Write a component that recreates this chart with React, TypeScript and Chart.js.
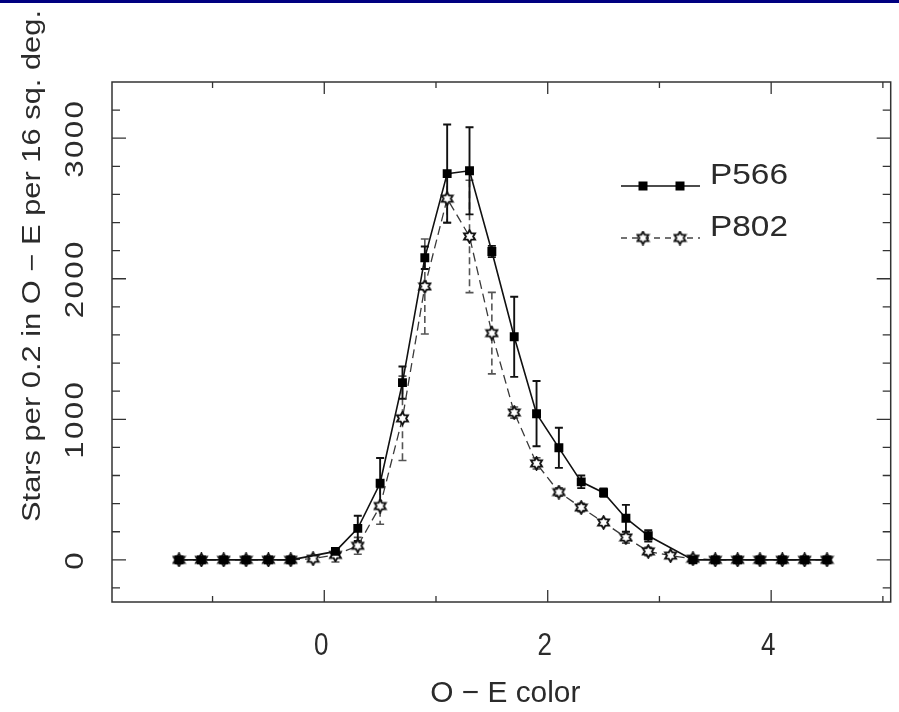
import React, { useEffect, useRef } from 'react';
import { Chart, registerables } from 'chart.js';

Chart.register(...registerables);

// ---------- data ----------
const X_VALUES = [-1.3, -1.1, -0.9, -0.7, -0.5, -0.3, -0.1, 0.1, 0.3, 0.5, 0.7, 0.9, 1.1, 1.3, 1.5, 1.7, 1.9, 2.1, 2.3, 2.5, 2.7, 2.9, 3.1, 3.3, 3.5, 3.7, 3.9, 4.1, 4.3, 4.5];
const P566_VALUES = [0, 0, 0, 0, 0, 0, null, 60, 224, 545, 1261, 2149, 2748, 2768, 2194, 1587, 1040, 797, 555, 478, 296, 171, null, 0, 0, 0, 0, 0, 0, 0];
const P566_ERRORS = [0, 0, 0, 0, 0, 0, 0, 0, 90, 180, 115, 80, 350, 310, 40, 285, 232, 143, 45, 30, 95, 40, 0, 0, 0, 0, 0, 0, 0, 0];
const P802_VALUES = [0, 0, 0, 0, 0, 0, 8, 35, 100, 383, 1007, 1945, 2570, 2301, 1613, 1048, 686, 482, 372, 266, 159, 60, 30, 8, 0, 0, 0, 0, 0, 0];
const P802_ERRORS = [0, 0, 0, 0, 0, 0, 0, 50, 60, 130, 300, 338, 170, 400, 290, 40, 40, 30, 30, 20, 40, 30, 0, 0, 0, 0, 0, 0, 0, 0];
const SERIES_NAMES = ['P566', 'P802'];

const X_TICK_LABELS = ['0', '2', '4'];
const X_TICK_LABEL_VALUES = [0, 2, 4];
const X_MAJOR_TICKS = [0, 2, 4];
const X_MINOR_TICKS = [-1, 1, 3, 5];
const Y_TICK_LABELS = ['0', '1000', '2000', '3000'];
const Y_TICK_LABEL_VALUES = [0, 1000, 2000, 3000];
const Y_MAJOR_TICKS = [0, 1000, 2000, 3000];
const Y_MINOR_TICKS = [-200, 200, 400, 600, 800, 1200, 1400, 1600, 1800, 2200, 2400, 2600, 2800, 3200];
const X_TITLE = 'O \u2212 E color';
const Y_TITLE = 'Stars per 0.2 in O \u2212 E per 16 sq. deg.';

const X_MIN = -1.9;
const X_MAX = 5.07;
const Y_MIN = -300;
const Y_MAX = 3400;

// ---------- styles ----------
const FONT_FAMILY = '"Liberation Sans", Arial, sans-serif';
const TEXT_COLOR = '#2b2b2b';
const STRETCH = 1.2;

function makeHexagram(size: number) {
  const c = document.createElement('canvas');
  c.width = size;
  c.height = size;
  const g = c.getContext('2d')!;
  const cx = size / 2;
  const cy = size / 2;
  const R = size / 2 - 1.2;
  const r = R / Math.sqrt(3);
  g.beginPath();
  for (let k = 0; k < 12; k++) {
    const ang = -Math.PI / 2 + (k * Math.PI) / 6;
    const rr = k % 2 === 0 ? R : r;
    const px = cx + rr * Math.cos(ang);
    const py = cy + rr * Math.sin(ang);
    if (k === 0) g.moveTo(px, py);
    else g.lineTo(px, py);
  }
  g.closePath();
  g.fillStyle = '#ffffff';
  g.fill();
  g.lineWidth = 1.9;
  g.strokeStyle = '#111111';
  g.stroke();
  return c;
}

function drawStretchedText(
  ctx: CanvasRenderingContext2D,
  text: string,
  x: number,
  y: number,
  opts: { size: number; rotate?: boolean; width?: number; spacing?: number; align?: CanvasTextAlign }
) {
  ctx.save();
  ctx.font = `${opts.size}px ${FONT_FAMILY}`;
  (ctx as any).letterSpacing = `${opts.spacing ?? 0}px`;
  ctx.fillStyle = TEXT_COLOR;
  ctx.textBaseline = 'middle';
  ctx.textAlign = opts.align ?? 'center';
  const natural = ctx.measureText(text).width;
  const along = opts.width ? opts.width / natural : STRETCH;
  ctx.translate(x, y);
  if (opts.rotate) {
    ctx.rotate(-Math.PI / 2);
    ctx.scale(along, 1);
  } else {
    ctx.scale(opts.width ? along : 1, STRETCH);
  }
  ctx.fillText(text, 0, 0);
  ctx.restore();
}

export default function App() {
  const canvasRef = useRef<HTMLCanvasElement | null>(null);

  useEffect(() => {
    document.body.style.margin = '0';
    const canvas = canvasRef.current!;
    const hex = makeHexagram(15);

    const decorations = {
      id: 'decorations',
      beforeDraw(chart: any) {
        const ctx = chart.ctx as CanvasRenderingContext2D;
        ctx.save();
        ctx.fillStyle = '#ffffff';
        ctx.fillRect(0, 0, chart.width, chart.height);
        ctx.fillStyle = '#000080';
        ctx.fillRect(0, 0, chart.width, 3);
        ctx.restore();
      },
      beforeDatasetsDraw(chart: any) {
        const ctx = chart.ctx as CanvasRenderingContext2D;
        const xs = chart.scales.x;
        const ys = chart.scales.y;
        const { left, right, top, bottom } = chart.chartArea;

        // frame
        ctx.save();
        ctx.strokeStyle = '#333333';
        ctx.lineWidth = 1.5;
        ctx.strokeRect(left, top, right - left, bottom - top);
        ctx.lineWidth = 1.3;
        ctx.beginPath();
        const xt = (v: number, len: number) => {
          const px = xs.getPixelForValue(v);
          ctx.moveTo(px, bottom);
          ctx.lineTo(px, bottom - len);
          ctx.moveTo(px, top);
          ctx.lineTo(px, top + len);
        };
        const yt = (v: number, len: number) => {
          const py = ys.getPixelForValue(v);
          ctx.moveTo(left, py);
          ctx.lineTo(left + len, py);
          ctx.moveTo(right, py);
          ctx.lineTo(right - len, py);
        };
        X_MAJOR_TICKS.forEach((v) => xt(v, 12));
        X_MINOR_TICKS.forEach((v) => xt(v, 6));
        Y_MAJOR_TICKS.forEach((v) => yt(v, 14));
        Y_MINOR_TICKS.forEach((v) => yt(v, 8));
        ctx.stroke();
        ctx.restore();

        // error bars
        const drawErr = (vals: (number | null)[], errs: number[], color: string, dash: number[], lw: number) => {
          ctx.save();
          ctx.strokeStyle = color;
          ctx.lineWidth = lw;
          X_VALUES.forEach((x, i) => {
            const v = vals[i];
            const e = errs[i];
            if (v == null || !e) return;
            const px = xs.getPixelForValue(x);
            const p1 = ys.getPixelForValue(v + e);
            const p2 = ys.getPixelForValue(v - e);
            ctx.setLineDash(dash);
            ctx.beginPath();
            ctx.moveTo(px, p1);
            ctx.lineTo(px, p2);
            ctx.stroke();
            ctx.setLineDash([]);
            ctx.beginPath();
            ctx.moveTo(px - 4, p1);
            ctx.lineTo(px + 4, p1);
            ctx.moveTo(px - 4, p2);
            ctx.lineTo(px + 4, p2);
            ctx.stroke();
          });
          ctx.restore();
        };
        drawErr(P802_VALUES, P802_ERRORS, '#555555', [7, 4], 1.6);
        drawErr(P566_VALUES, P566_ERRORS, '#111111', [], 1.9);
      },
      afterDraw(chart: any) {
        const ctx = chart.ctx as CanvasRenderingContext2D;
        const xs = chart.scales.x;
        const ys = chart.scales.y;
        const { left, right, bottom } = chart.chartArea;

        // tick labels
        X_TICK_LABELS.forEach((t, i) => {
          drawStretchedText(ctx, t, xs.getPixelForValue(X_TICK_LABEL_VALUES[i]) - 2, bottom + 44, { size: 26, spacing: 2 });
        });
        Y_TICK_LABELS.forEach((t, i) => {
          drawStretchedText(ctx, t, left - 36, ys.getPixelForValue(Y_TICK_LABEL_VALUES[i]), { size: 26, spacing: 2, rotate: true });
        });

        // axis titles
        drawStretchedText(ctx, X_TITLE, (left + right) / 2 + 4, bottom + 92, { size: 25, width: 150 });
        drawStretchedText(ctx, Y_TITLE, 33, 266, { size: 25, width: 512, rotate: true });

        // legend
        const legendRows = [
          { name: SERIES_NAMES[0], y: 186, dashed: false },
          { name: SERIES_NAMES[1], y: 238, dashed: true },
        ];
        legendRows.forEach((row) => {
          ctx.save();
          ctx.strokeStyle = row.dashed ? '#444444' : '#111111';
          ctx.lineWidth = row.dashed ? 1.4 : 1.6;
          if (row.dashed) {
            ctx.setLineDash([6, 5]);
          }
          ctx.beginPath();
          ctx.moveTo(621, row.y);
          ctx.lineTo(700, row.y);
          ctx.stroke();
          ctx.setLineDash([]);
          [643, 680].forEach((mx) => {
            if (row.dashed) {
              ctx.drawImage(hex, mx - hex.width / 2, row.y - hex.height / 2);
            } else {
              ctx.fillStyle = '#000000';
              ctx.fillRect(mx - 4.5, row.y - 4.5, 9, 9);
            }
          });
          ctx.restore();
          drawStretchedText(ctx, row.name, 710, row.y - 10, { size: 25, width: 78, align: 'left' });
        });
      },
    };

    const chart = new Chart(canvas, {
      type: 'line',
      data: {
        datasets: [
          {
            label: SERIES_NAMES[0],
            data: X_VALUES.map((x, i) => ({ x, y: P566_VALUES[i] })) as any,
            order: 0,
            borderColor: '#111111',
            borderWidth: 1.6,
            pointStyle: 'rect',
            pointRadius: 6.3,
            pointBackgroundColor: '#000000',
            pointBorderColor: '#000000',
            pointBorderWidth: 0,
            spanGaps: true,
            tension: 0,
          },
          {
            label: SERIES_NAMES[1],
            data: X_VALUES.map((x, i) => ({ x, y: P802_VALUES[i] })) as any,
            order: 1,
            borderColor: '#3a3a3a',
            borderWidth: 1.3,
            borderDash: [9, 5],
            pointStyle: hex as any,
            pointRadius: 7,
            spanGaps: true,
            tension: 0,
          },
        ],
      },
      options: {
        animation: false,
        responsive: false,
        devicePixelRatio: 1,
        events: [],
        layout: { padding: { left: 112, right: 4, top: 82, bottom: 110 } },
        plugins: { legend: { display: false }, tooltip: { enabled: false } },
        scales: {
          x: { type: 'linear', min: X_MIN, max: X_MAX, display: false },
          y: { type: 'linear', min: Y_MIN, max: Y_MAX, display: false },
        },
      },
      plugins: [decorations],
    });
    return () => chart.destroy();
  }, []);

  return (
    <div style={{ position: 'absolute', left: 0, top: 0, width: 899, height: 712 }}>
      <canvas ref={canvasRef} width={899} height={712} style={{ display: 'block', width: 899, height: 712 }} />
    </div>
  );
}
